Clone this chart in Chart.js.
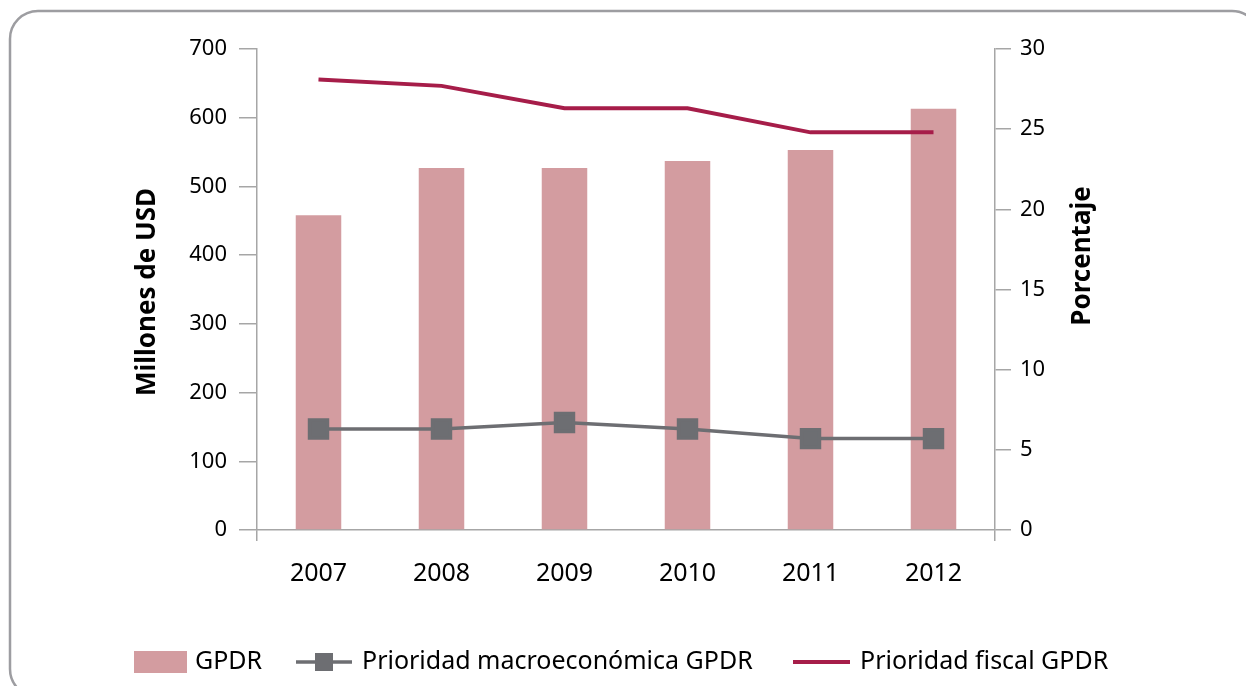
<!DOCTYPE html>
<html>
<head>
<meta charset="utf-8">
<script src="https://cdn.jsdelivr.net/npm/chart.js@4/dist/chart.umd.min.js"></script>
<style>
  html, body { margin: 0; padding: 0; background: #fff; }
  #wrap { width: 1246px; height: 686px; position: relative; }
</style>
</head>
<body>
<div id="wrap"><canvas id="chart" width="1246" height="686"></canvas></div>
<script>
// Data
const years = ['2007', '2008', '2009', '2010', '2011', '2012'];
const gpdr = [458, 527, 527, 537, 553, 613];             // Millones de USD
const prioridadMacro = [6.3, 6.3, 6.7, 6.3, 5.7, 5.7];   // Porcentaje
const prioridadFiscal = [28.1, 27.7, 26.3, 26.3, 24.8, 24.8]; // Porcentaje
const leftTicks = { min: 0, max: 700, step: 100 };
const rightTicks = { min: 0, max: 30, step: 5 };

const FONT = "'Noto Sans', 'Open Sans', sans-serif";
const AXIS_GREY = '#a6a6a6';

// frame, axis titles and legend drawn by hand
const decorations = {
    id: 'decorations',
    beforeDraw(chart) {
        const ctx = chart.ctx;
        ctx.save();
        ctx.strokeStyle = '#9d9da1';
        ctx.lineWidth = 2.5;
        ctx.beginPath();
        ctx.roundRect(10, 11, 1250, 686, 28);
        ctx.stroke();
        ctx.restore();
    },
    afterDraw(chart) {
        const ctx = chart.ctx;
        ctx.save();
        ctx.fillStyle = '#000';
        ctx.font = 'bold 26px ' + FONT;
        ctx.textAlign = 'center';
        ctx.textBaseline = 'middle';
        ctx.translate(148, 292);
        ctx.rotate(-Math.PI / 2);
        ctx.fillText('Millones de USD', 0, 0);
        ctx.restore();

        ctx.save();
        ctx.fillStyle = '#000';
        ctx.font = 'bold 26px ' + FONT;
        ctx.textAlign = 'center';
        ctx.textBaseline = 'middle';
        ctx.translate(1083, 256);
        ctx.rotate(-Math.PI / 2);
        ctx.fillText('Porcentaje', 0, 0);
        ctx.restore();

        // legend
        const ds = chart.data.datasets;
        const y = 662;
        ctx.save();
        ctx.font = '25px ' + FONT;
        ctx.textBaseline = 'middle';
        ctx.fillStyle = '#000';

        ctx.fillStyle = ds[0].backgroundColor;
        ctx.fillRect(134, 651, 53, 22);
        ctx.fillStyle = '#000';
        ctx.fillText(ds[0].label, 195, y);

        ctx.strokeStyle = ds[1].borderColor;
        ctx.lineWidth = 3.5;
        ctx.beginPath(); ctx.moveTo(296, y); ctx.lineTo(352, y); ctx.stroke();
        ctx.fillStyle = ds[1].borderColor;
        ctx.fillRect(315, y - 9, 18, 18);
        ctx.fillStyle = '#000';
        ctx.fillText(ds[1].label, 362, y);

        ctx.strokeStyle = ds[2].borderColor;
        ctx.lineWidth = 4;
        ctx.beginPath(); ctx.moveTo(793, y); ctx.lineTo(850, y); ctx.stroke();
        ctx.fillText(ds[2].label, 860, y);
        ctx.restore();
    }
};

new Chart(document.getElementById('chart').getContext('2d'), {
    type: 'bar',
    data: {
        labels: years,
        datasets: [
            {
                label: 'GPDR',
                data: gpdr,
                backgroundColor: '#d39ca0',
                barPercentage: 0.37,
                categoryPercentage: 1,
                yAxisID: 'y',
                order: 3
            },
            {
                type: 'line',
                label: 'Prioridad macroeconómica GPDR',
                data: prioridadMacro,
                borderColor: '#6d6e72',
                backgroundColor: '#6d6e72',
                borderWidth: 3.5,
                pointStyle: 'rect',
                pointRadius: 12.7,
                tension: 0,
                yAxisID: 'y1',
                order: 2
            },
            {
                type: 'line',
                label: 'Prioridad fiscal GPDR',
                data: prioridadFiscal,
                borderColor: '#a61d49',
                backgroundColor: '#a61d49',
                borderWidth: 4,
                pointRadius: 0,
                tension: 0,
                yAxisID: 'y1',
                order: 1
            }
        ]
    },
    options: {
        responsive: false,
        animation: false,
        events: [],
        layout: { padding: { top: 49, bottom: 96, left: 0, right: 0 } },
        plugins: {
            legend: { display: false },
            tooltip: { enabled: false }
        },
        scales: {
            x: {
                offset: true,
                grid: {
                    drawOnChartArea: false,
                    tickLength: 11,
                    lineWidth: 1.5,
                    color: c => (c.type !== 'tick' || c.index === 0) ? AXIS_GREY : 'rgba(0,0,0,0)'
                },
                border: { color: AXIS_GREY, width: 1.5 },
                ticks: { color: '#000', font: { family: FONT, size: 25 }, padding: 18 },
                afterFit: s => { s.height = 60; }
            },
            y: {
                position: 'left',
                min: leftTicks.min,
                max: leftTicks.max,
                grid: { drawOnChartArea: false, tickLength: 18, color: AXIS_GREY, lineWidth: 1.5 },
                border: { color: AXIS_GREY, width: 1.5 },
                ticks: { stepSize: leftTicks.step, color: '#000', font: { family: FONT, size: 22 }, padding: 12 },
                afterFit: s => { s.width = 257; }
            },
            y1: {
                position: 'right',
                min: rightTicks.min,
                max: rightTicks.max,
                grid: { drawOnChartArea: false, tickLength: 16, color: AXIS_GREY, lineWidth: 1.5 },
                border: { color: AXIS_GREY, width: 1.5 },
                ticks: { stepSize: rightTicks.step, color: '#000', font: { family: FONT, size: 22 }, padding: 9 },
                afterFit: s => { s.width = 251; }
            }
        }
    },
    plugins: [decorations]
});
</script>
</body>
</html>
